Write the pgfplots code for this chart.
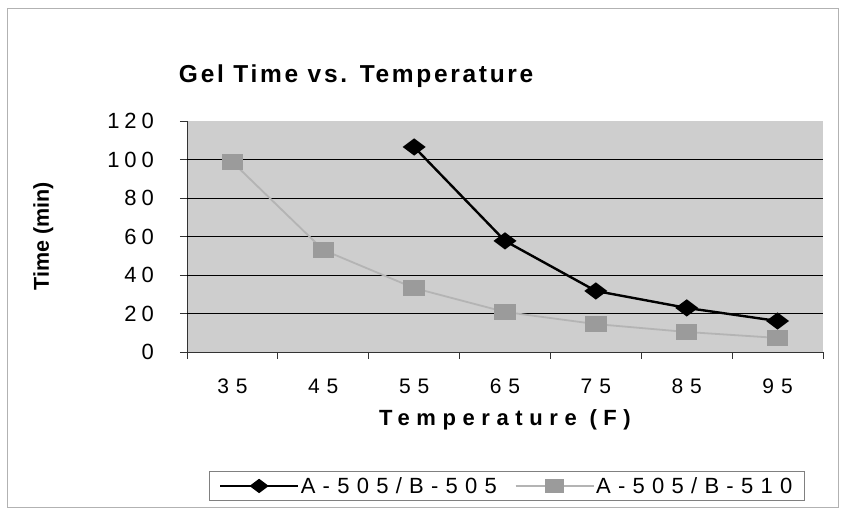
\documentclass[border=0pt]{standalone}
\usepackage{fontspec}
\setmainfont{Liberation Sans}
\newfontfamily\spT{Liberation Sans}[LetterSpace=11]
\newfontfamily\spY{Liberation Sans}[LetterSpace=22]
\newfontfamily\spX{Liberation Sans}[LetterSpace=30]
\newfontfamily\spB{Liberation Sans}[LetterSpace=33]
\usepackage{pgfplots}
\pgfplotsset{compat=1.18}
\definecolor{plotbg}{RGB}{206,206,206}
\definecolor{lgray}{RGB}{180,180,180}
\definecolor{mgray}{RGB}{155,155,155}

\pgfplotstableread{
x  t
3  106.5
4  57.7
5  31.7
6  22.9
7  16.1
}\blackdata
\pgfplotstableread{
x  t
1  98.7
2  53.0
3  33.2
4  20.8
5  14.5
6  10.4
7  7.3
}\graydata

\begin{document}
\begin{tikzpicture}
\path (0,0) rectangle (843pt,510pt);
\draw[black!30] (7pt,3pt) rectangle (838pt,502pt);
\begin{axis}[
  at={(187pt,158pt)}, anchor=south west,
  width=636pt, height=231pt, scale only axis,
  xmin=0.5, xmax=7.5, ymin=0, ymax=120,
  xtick={1,...,7}, xticklabels={35,45,55,65,75,85,95},
  major x tick style={draw=none},
  minor xtick={0.5,1.5,...,7.5},
  ytick={0,20,...,120},
  extra y ticks={20,40,60,80,100},
  extra y tick labels={},
  extra y tick style={grid=major, major tick length=0pt},
  grid style={black, line width=0.8pt},
  tick align=outside, major tick length=7pt, minor tick length=7pt,
  tick style={black!80, line width=0.8pt},
  axis x line*=bottom, axis y line*=left,
  axis line style={black!80, line width=0.8pt, -},
  axis background/.style={fill=plotbg},
  /pgf/number format/assume math mode=true,
  yticklabel style={font=\fontsize{22}{24}\selectfont\spY, inner sep=0pt, xshift=-26pt},
  xticklabel style={font=\fontsize{21}{24}\selectfont\spB, inner sep=0pt, yshift=-20pt},
  title={\fontsize{24.5}{28}\selectfont\bfseries\spT Gel Time vs. Temperature},
  title style={at={(axis description cs:0.266,1.140)}, anchor=base, inner sep=0pt},
  xlabel={\fontsize{22}{24}\selectfont\bfseries\spX Temperature (F)},
  xlabel style={at={(axis description cs:0.50,-0.320)}, anchor=base, inner sep=0pt},
  ylabel={\fontsize{21.5}{24}\selectfont\bfseries Time (min)},
  ylabel style={at={(axis description cs:-0.226,0.50)}, anchor=center, inner sep=0pt, rotate=0},
  legend columns=2,
  legend style={at={(axis description cs:0.503,-0.58)}, anchor=center,
    draw=black!50, fill=white, font=\fontsize{22}{24}\selectfont\spB,
    inner xsep=10pt, inner ysep=4pt,
    /tikz/every even column/.append style={column sep=16pt}},
  legend image code/.code={\draw[mark repeat=2,mark phase=2,#1,line width=1.3pt,
    every mark/.append style={scale=0.9}] plot coordinates {(0pt,0pt) (39pt,0pt) (78pt,0pt)};},
]
\addplot[black, line width=2.4pt, mark=diamond*, mark size=9.5pt,
  mark options={rotate=90, solid, fill=black}] table[x=x,y=t] {\blackdata};
\addlegendentry{A-505/B-505}
\addplot[lgray, line width=1.8pt, mark=square*, mark size=7.5pt,
  mark options={xscale=1.3, draw=mgray, fill=mgray}] table[x=x,y=t] {\graydata};
\addlegendentry{A-505/B-510}
\end{axis}
\end{tikzpicture}
\end{document}
